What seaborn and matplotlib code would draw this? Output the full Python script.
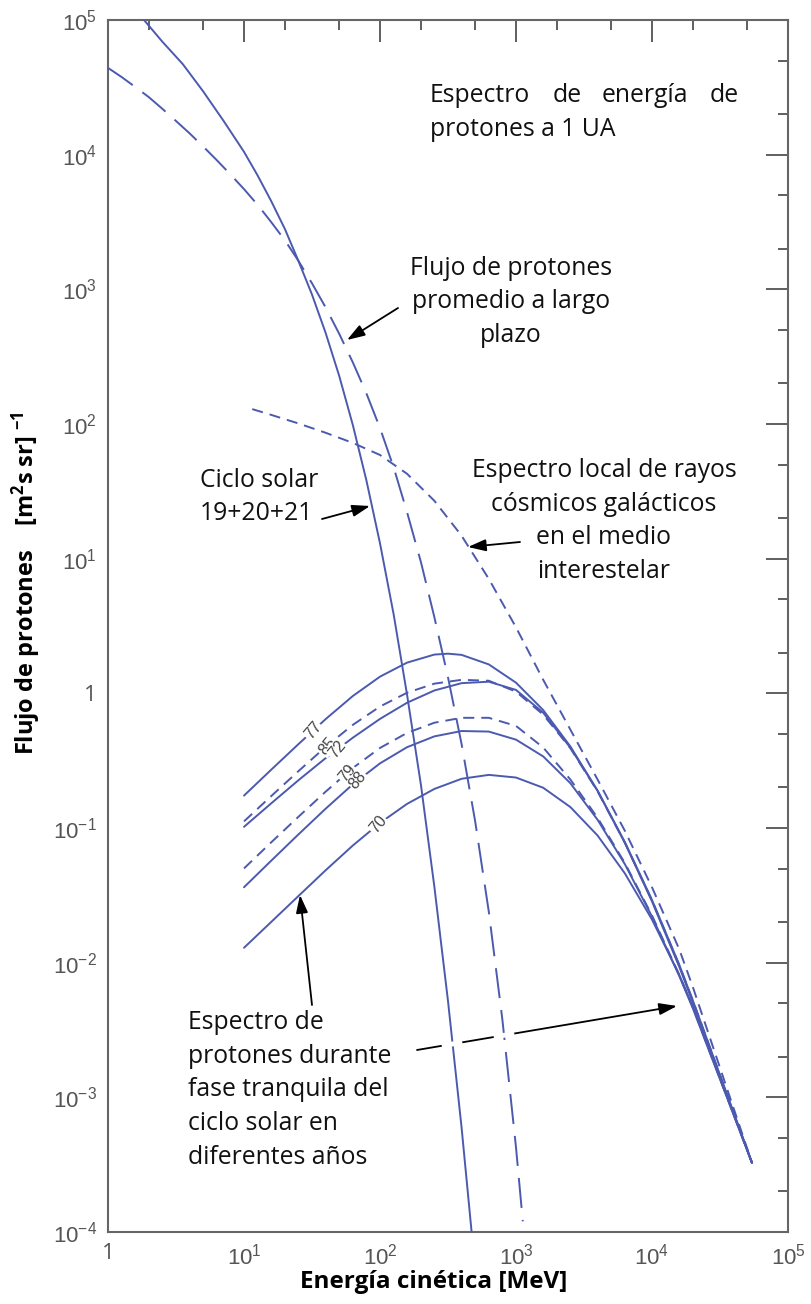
import matplotlib
matplotlib.use("Agg")
import matplotlib.pyplot as plt
from matplotlib.lines import Line2D
from matplotlib.ticker import FixedLocator, FixedFormatter, LogLocator, NullFormatter
import pandas as pd
import seaborn as sns

# ---------------- data: kinetic energy [MeV] and proton flux ----------------
# solar cycle 19+20+21 (solid)
cycle_E = [1.84, 2.51, 3.55, 5.01, 7.08, 10.0, 12.6, 15.8, 20.0, 25.1, 31.6, 39.8,
           50.1, 63.1, 79.4, 100, 126, 158, 200, 251, 316, 398, 501]
cycle_F = [1.0e5, 6.9e4, 4.7e4, 2.95e4, 1.78e4, 1.05e4, 7.0e3, 4.55e3, 2.8e3, 1.63e3,
           916, 476, 228, 98.4, 38.2, 13.0, 3.86, 0.98, 0.209, 0.0367, 5.22e-3,
           5.96e-4, 5.3e-5]

# long-term average proton flux (long dashes)
avg_E = [1.0, 1.26, 1.58, 2.0, 2.51, 3.16, 3.98, 5.01, 6.31, 7.94, 10, 12.6, 15.8,
         20.0, 25.1, 31.6, 39.8, 50.1, 63.1, 79.4, 100, 126, 158, 200, 251, 316,
         398, 501, 631, 794, 1000, 1122]
avg_F = [4.41e4, 3.77e4, 3.19e4, 2.67e4, 2.19e4, 1.78e4, 1.44e4, 1.15e4, 9.1e3,
         7.14e3, 5.55e3, 4.24e3, 3.17e3, 2.31e3, 1.63e3, 1.11e3, 735, 468, 287, 169,
         93.3, 47.6, 22.2, 9.42, 3.68, 1.32, 0.420, 0.112, 0.0239, 3.78e-3, 4.25e-4,
         1.2e-4]

# local interstellar galactic cosmic-ray spectrum (short dashes)
lis_E = [11.5, 15.8, 25.1, 39.8, 63.1, 100, 158, 251, 398, 631, 1000, 1585, 2512,
         3981, 6310, 1.0e4, 1.585e4, 1.995e4, 5.43e4]
lis_F = [129, 117, 101, 86.1, 72.4, 58.9, 42.7, 26.9, 14.8, 7.08, 3.09, 1.26, 0.537,
         0.229, 0.0955, 0.0363, 0.0126, 6.61e-3, 3.27e-4]

# quiet-time spectra for individual years
q77_E = [10, 15.8, 25.1, 39.8, 63.1, 100, 158, 251, 316, 398, 631, 1000, 1585, 2512,
         3981, 6310, 1.0e4, 1.585e4, 1.995e4, 5.43e4]
q77_F = [0.174, 0.270, 0.419, 0.643, 0.955, 1.33, 1.69, 1.94, 1.97, 1.93, 1.64, 1.20,
         0.751, 0.403, 0.189, 0.0777, 0.0285, 9.34e-3, 5.08e-3, 3.27e-4]

year_E = [10, 15.8, 25.1, 39.8, 63.1, 100, 158, 251, 398, 631, 1000, 1585, 2512,
          3981, 6310, 1.0e4, 1.585e4, 1.995e4, 5.43e4]
q85_F = [0.112, 0.172, 0.264, 0.400, 0.583, 0.798, 1.01, 1.18, 1.26, 1.24, 1.03,
         0.695, 0.391, 0.187, 0.078, 0.029, 9.6e-3, 5.25e-3, 3.27e-4]
q72_F = [0.102, 0.152, 0.226, 0.330, 0.468, 0.646, 0.851, 1.05, 1.19, 1.22, 1.06,
         0.718, 0.394, 0.189, 0.0787, 0.0292, 9.68e-3, 5.25e-3, 3.27e-4]
q79_F = [0.0501, 0.078, 0.121, 0.186, 0.279, 0.393, 0.508, 0.605, 0.658, 0.658, 0.573,
         0.396, 0.229, 0.119, 0.055, 0.0224, 8.13e-3, 4.68e-3, 3.27e-4]
q88_F = [0.0363, 0.0570, 0.0895, 0.139, 0.211, 0.302, 0.398, 0.479, 0.525, 0.520,
         0.453, 0.340, 0.215, 0.115, 0.0540, 0.0220, 7.98e-3, 4.59e-3, 3.27e-4]
q70_F = [0.0129, 0.0200, 0.0312, 0.0485, 0.0741, 0.109, 0.151, 0.195, 0.232, 0.248,
         0.237, 0.199, 0.143, 0.0879, 0.0461, 0.0209, 8.13e-3, 4.73e-3, 3.27e-4]

# year labels written on the curves
year_labels = ["77", "85", "72", "79", "88", "70"]
year_label_E = [32.2, 40.8, 48.3, 57.2, 68.9, 96.7]
year_label_F = [0.527, 0.408, 0.382, 0.256, 0.226, 0.106]

x_ticks = [1, 1e1, 1e2, 1e3, 1e4, 1e5]
x_tick_labels = ["1", "$10^{1}$", "$10^{2}$", "$10^{3}$", "$10^{4}$", "$10^{5}$"]
y_ticks = [1e-4, 1e-3, 1e-2, 1e-1, 1, 1e1, 1e2, 1e3, 1e4, 1e5]
y_tick_labels = ["$10^{-4}$", "$10^{-3}$", "$10^{-2}$", "$10^{-1}$", "1",
                 "$10^{1}$", "$10^{2}$", "$10^{3}$", "$10^{4}$", "$10^{5}$"]

# ---------------- style ----------------
sns.set_theme(style="white")
plt.rcParams["font.family"] = ["Open Sans", "DejaVu Sans"]
plt.rcParams["mathtext.fontset"] = "custom"
plt.rcParams["mathtext.rm"] = "Liberation Sans"
plt.rcParams["mathtext.it"] = "Liberation Sans:italic"
plt.rcParams["mathtext.bf"] = "Open Sans:bold"

BLUE = "#4b5aaf"
LW = 1.4
LONG = (0, (15.5, 6.2))
SHORT = (0, (5.7, 3.6))

W, H = 811, 1304
fig = plt.figure(figsize=(W / 100, H / 100), dpi=100)
ax = fig.add_axes([108 / W, 1 - 1232 / H, 680 / W, 1212 / H])


def fp(x, y):
    """Figure fraction from a pixel position measured from the top-left corner."""
    return (x / W, 1 - y / H)


def curve(E, F, style, z=2):
    df = pd.DataFrame({"E": E, "F": F})
    sns.lineplot(data=df, x="E", y="F", ax=ax, color=BLUE, lw=LW, zorder=z,
                 linestyle=style, estimator=None, errorbar=None, sort=False)


# the two steep curves sit above the lower arrow, which is cut where it crosses them
curve(cycle_E, cycle_F, "-", z=4)
curve(avg_E, avg_F, LONG, z=4)
curve(lis_E, lis_F, SHORT)
curve(q77_E, q77_F, "-")
curve(year_E, q85_F, SHORT)
curve(year_E, q72_F, "-")
curve(year_E, q79_F, SHORT)
curve(year_E, q88_F, "-")
curve(year_E, q70_F, "-")

for txt, e, f in zip(year_labels, year_label_E, year_label_F):
    ax.text(e, f, txt, rotation=50, rotation_mode="anchor", ha="center", va="center",
            fontsize=11.5, color="#444444", family="Liberation Sans", zorder=5,
            bbox=dict(facecolor="white", edgecolor="none", pad=0.6))

ax.set_xscale("log")
ax.set_yscale("log")
ax.set_xlim(1, 1e5)
ax.set_ylim(1e-4, 1e5)

ax.xaxis.set_major_locator(FixedLocator(x_ticks))
ax.xaxis.set_major_formatter(FixedFormatter(x_tick_labels))
ax.yaxis.set_major_locator(FixedLocator(y_ticks))
ax.yaxis.set_major_formatter(FixedFormatter(y_tick_labels))
ax.xaxis.set_minor_locator(LogLocator(base=10, subs=(2, 5)))
ax.yaxis.set_minor_locator(LogLocator(base=10, subs=(2, 5), numticks=20))
ax.xaxis.set_minor_formatter(NullFormatter())
ax.yaxis.set_minor_formatter(NullFormatter())

ax.tick_params(which="both", direction="in", top=True, right=True, color="#444444",
               width=1.2, labelsize=16, labelcolor="#555555")
ax.tick_params(which="major", length=16, pad=8)
ax.tick_params(which="minor", length=7)
for sp in ax.spines.values():
    sp.set_color("#666666")
    sp.set_linewidth(1.5)

ax.set_xlabel("Energía cinética [MeV]", fontsize=17.5, fontweight="bold", color="black")
ax.xaxis.set_label_coords((434 - 108) / 680, (1232 - 1270) / 1212)
ax.xaxis.label.set_va("top")
ax.set_ylabel(r"Flujo de protones    [m$^{\mathbf{2}}$s sr] $^{\mathbf{-1}}$",
              fontsize=17, fontweight="bold", color="black")
ax.yaxis.set_label_coords((43 - 108) / 680, (1232 - 583) / 1212)

# ---------------- annotations ----------------
TXT = dict(fontsize=17.8, color="#111111", family="Open Sans")

for word, x0 in zip(["Espectro", "de", "energía", "de"], [430, 553, 602, 710]):
    fig.text(*fp(x0, 96), word, ha="left", va="center", **TXT)
fig.text(*fp(430, 130), "protones a 1 UA", ha="left", va="center", **TXT)

fig.text(*fp(511, 302), "Flujo de protones\npromedio a largo\nplazo", ha="center",
         va="center", linespacing=1.45, **TXT)
fig.text(*fp(200, 497), "Ciclo solar\n19+20+21", ha="left", va="center",
         linespacing=1.4, **TXT)
fig.text(*fp(604, 521), "Espectro local de rayos\ncósmicos galácticos\nen el medio\ninterestelar",
         ha="center", va="center", linespacing=1.45, **TXT)
fig.text(*fp(188, 1090), "Espectro de\nprotones durante\nfase tranquila del\nciclo solar en\ndiferentes años",
         ha="left", va="center", linespacing=1.45, **TXT)

ARROW = dict(arrowstyle="-|>,head_length=0.9,head_width=0.3", color="black", lw=1.3,
             shrinkA=0, shrinkB=0)
for (x0, y0), (x1, y1) in [((398, 308), (347, 340)),
                           ((322, 519), (370, 506)),
                           ((520, 542), (468, 547)),
                           ((312, 1005), (300, 895)),
                           ((417, 1050), (677, 1006))]:
    ann = ax.annotate("", xy=fp(x1, y1), xytext=fp(x0, y0), xycoords="figure fraction",
                      textcoords="figure fraction", arrowprops=ARROW)
    ann.set_zorder(3)

# white breaks in the lower arrow where the two steep curves pass over it
for xa, xb in [(444, 460), (496, 512)]:
    ya = 1050 - (xa - 417) * 44 / 260
    yb = 1050 - (xb - 417) * 44 / 260
    fig.add_artist(Line2D([xa / W, xb / W], [1 - ya / H, 1 - yb / H], color="white",
                          lw=3.5, transform=fig.transFigure, zorder=3.5))
    ax.set_zorder(1)

fig.savefig("out.png", dpi=100, facecolor="white")
